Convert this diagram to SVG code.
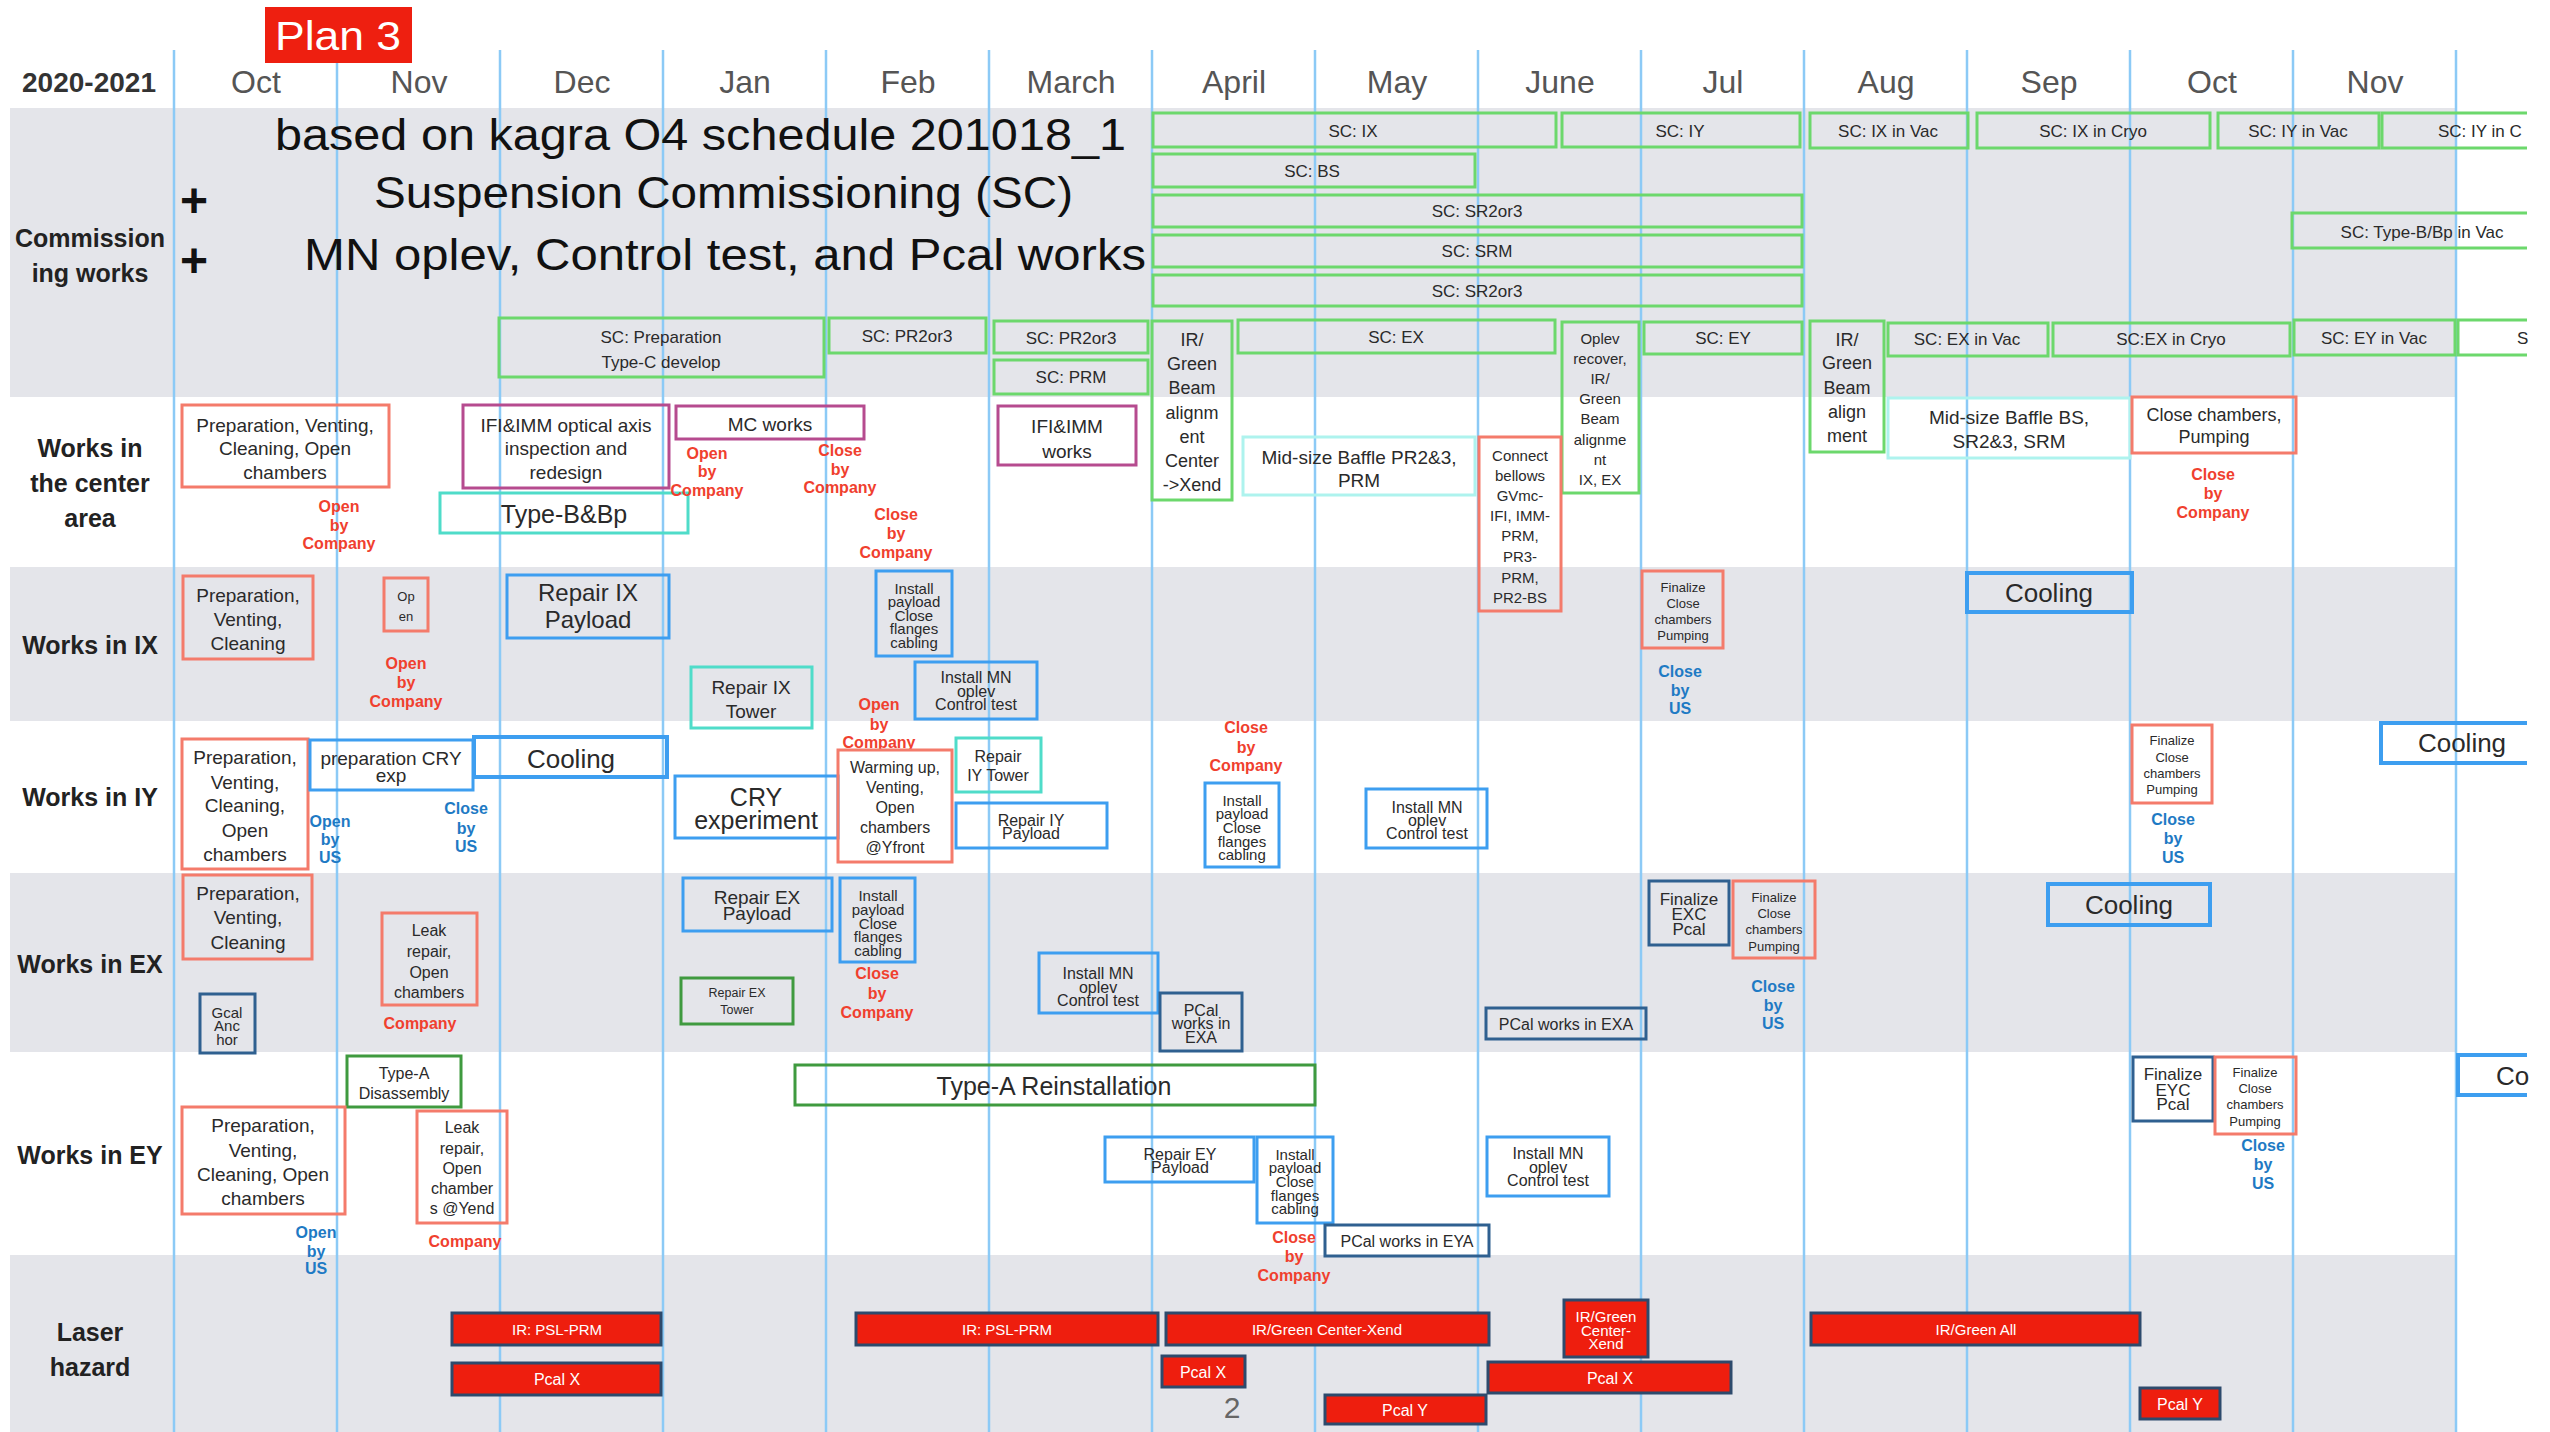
<svg xmlns="http://www.w3.org/2000/svg" width="2550" height="1432" viewBox="0 0 2550 1432">
<style>
text{font-family:"Liberation Sans",Arial,Helvetica,sans-serif;text-anchor:middle;dominant-baseline:central;fill:#2a2a2a}
.band{fill:#e4e5ea}
.vl{stroke:#8ccaf6;stroke-width:2.5}
.g{fill:none;stroke:#6cd86c;stroke-width:3}
.r{fill:none;stroke:#f47b6b;stroke-width:3}
.p{fill:none;stroke:#b64b8f;stroke-width:3}
.t{fill:none;stroke:#4fdcc9;stroke-width:3}
.c{fill:none;stroke:#aef3ee;stroke-width:3}
.b{fill:none;stroke:#3d9ef0;stroke-width:3}
.bk{fill:none;stroke:#3d9ef0;stroke-width:4}
.d{fill:none;stroke:#2f6090;stroke-width:3}
.dg{fill:none;stroke:#3f9a3f;stroke-width:3}
.lz{fill:#ee1e0e;stroke:#2d4a6c;stroke-width:3}
.mo{font-size:32px;fill:#555}
.lab{font-size:25px;font-weight:bold;fill:#222}
.big{font-size:45px;text-anchor:start;dominant-baseline:auto;fill:#111}
.sc{font-size:17px}
.s19{font-size:19px}
.s18{font-size:18px}
.s16{font-size:16px}
.s15{font-size:15px}
.s13{font-size:13px}
.s12{font-size:12.5px}
.s26{font-size:26px}
.s25{font-size:25px}
.rt{font-size:16px;font-weight:bold;fill:#f0402e}
.bt{font-size:16px;font-weight:bold;fill:#1e7ac4}
.wt{font-size:15px;fill:#fff}
</style>

<g id="background">
<rect x="0" y="0" width="2550" height="1432" fill="#fff"/>
<rect class="band" x="10" y="108" width="2446" height="289"/>
<rect class="band" x="10" y="567" width="2446" height="154"/>
<rect class="band" x="10" y="873" width="2446" height="179"/>
<rect class="band" x="10" y="1255" width="2446" height="177"/>
</g>

<g id="month-lines">
<line class="vl" x1="174" y1="50" x2="174" y2="1432"/>
<line class="vl" x1="337" y1="50" x2="337" y2="1432"/>
<line class="vl" x1="500" y1="50" x2="500" y2="1432"/>
<line class="vl" x1="663" y1="50" x2="663" y2="1432"/>
<line class="vl" x1="826" y1="50" x2="826" y2="1432"/>
<line class="vl" x1="989" y1="50" x2="989" y2="1432"/>
<line class="vl" x1="1152" y1="50" x2="1152" y2="1432"/>
<line class="vl" x1="1315" y1="50" x2="1315" y2="1432"/>
<line class="vl" x1="1478" y1="50" x2="1478" y2="1432"/>
<line class="vl" x1="1641" y1="50" x2="1641" y2="1432"/>
<line class="vl" x1="1804" y1="50" x2="1804" y2="1432"/>
<line class="vl" x1="1967" y1="50" x2="1967" y2="1432"/>
<line class="vl" x1="2130" y1="50" x2="2130" y2="1432"/>
<line class="vl" x1="2293" y1="50" x2="2293" y2="1432"/>
<line class="vl" x1="2456" y1="50" x2="2456" y2="1432"/>
</g>

<g id="header">
<rect x="265" y="7" width="147" height="56" fill="#ee1f10"/>
<text x="338" y="36" style="font-size:40px;fill:#fff" textLength="126" lengthAdjust="spacingAndGlyphs">Plan 3</text>
<text x="89" y="82" style="font-size:28px;font-weight:bold;fill:#333">2020-2021</text>
<text class="mo" x="256" y="82">Oct</text>
<text class="mo" x="419" y="82">Nov</text>
<text class="mo" x="582" y="82">Dec</text>
<text class="mo" x="745" y="82">Jan</text>
<text class="mo" x="908" y="82">Feb</text>
<text class="mo" x="1071" y="82">March</text>
<text class="mo" x="1234" y="82">April</text>
<text class="mo" x="1397" y="82">May</text>
<text class="mo" x="1560" y="82">June</text>
<text class="mo" x="1723" y="82">Jul</text>
<text class="mo" x="1886" y="82">Aug</text>
<text class="mo" x="2049" y="82">Sep</text>
<text class="mo" x="2212" y="82">Oct</text>
<text class="mo" x="2375" y="82">Nov</text>
</g>

<g id="row-labels">
<text class="lab" x="90" y="238">Commission</text>
<text class="lab" x="90" y="273">ing works</text>
<text class="lab" x="90" y="448">Works in</text>
<text class="lab" x="90" y="483">the center</text>
<text class="lab" x="90" y="518">area</text>
<text class="lab" x="90" y="645">Works in IX</text>
<text class="lab" x="90" y="797">Works in IY</text>
<text class="lab" x="90" y="964">Works in EX</text>
<text class="lab" x="90" y="1155">Works in EY</text>
<text class="lab" x="90" y="1332">Laser</text>
<text class="lab" x="90" y="1367">hazard</text>
</g>

<g id="title">
<text class="big" x="275" y="150" textLength="851" lengthAdjust="spacingAndGlyphs">based on kagra O4 schedule 201018_1</text>
<text class="big" x="374" y="208" textLength="699" lengthAdjust="spacingAndGlyphs">Suspension Commissioning (SC)</text>
<text class="big" x="304" y="270" textLength="842" lengthAdjust="spacingAndGlyphs">MN oplev, Control test, and Pcal works</text>
<text x="194" y="200" style="font-size:48px;font-weight:bold;fill:#111">+</text>
<text x="194" y="260" style="font-size:48px;font-weight:bold;fill:#111">+</text>
</g>

<!-- Commissioning -->
<g id="sc-ix"><rect class="g" x="1153" y="113" width="403" height="34"/><text class="sc" x="1353" y="131">SC: IX</text></g>
<g id="sc-iy"><rect class="g" x="1562" y="113" width="238" height="34"/><text class="sc" x="1680" y="131">SC: IY</text></g>
<g id="sc-ix-vac"><rect class="g" x="1810" y="113" width="158" height="35"/><text class="sc" x="1888" y="131">SC: IX in Vac</text></g>
<g id="sc-ix-cryo"><rect class="g" x="1977" y="113" width="233" height="35"/><text class="sc" x="2093" y="131">SC: IX in Cryo</text></g>
<g id="sc-iy-vac"><rect class="g" x="2218" y="113" width="161" height="35"/><text class="sc" x="2298" y="131">SC: IY in Vac</text></g>
<g id="sc-iy-cryo"><path class="g" d="M2527 113 H2382 V148 H2527"/><text class="sc" x="2438" y="131" style="text-anchor:start">SC: IY in C</text></g>
<g id="sc-bs"><rect class="g" x="1153" y="154" width="322" height="33"/><text class="sc" x="1312" y="171">SC: BS</text></g>
<g id="sc-sr2or3-a"><rect class="g" x="1153" y="195" width="649" height="32"/><text class="sc" x="1477" y="211">SC: SR2or3</text></g>
<g id="sc-srm"><rect class="g" x="1153" y="235" width="649" height="32"/><text class="sc" x="1477" y="251">SC: SRM</text></g>
<g id="sc-sr2or3-b"><rect class="g" x="1153" y="275" width="649" height="31"/><text class="sc" x="1477" y="291">SC: SR2or3</text></g>
<g id="sc-typeb"><path class="g" d="M2527 213 H2292 V248 H2527"/><text class="sc" x="2422" y="232">SC: Type-B/Bp in Vac</text></g>
<g id="sc-prep"><rect class="g" x="499" y="318" width="325" height="59"/><text class="sc" x="661" y="337">SC: Preparation</text><text class="sc" x="661" y="362">Type-C develop</text></g>
<g id="sc-pr2or3-feb"><rect class="g" x="829" y="318" width="157" height="35"/><text class="sc" x="907" y="336">SC: PR2or3</text></g>
<g id="sc-pr2or3-mar"><rect class="g" x="994" y="321" width="154" height="32"/><text class="sc" x="1071" y="338">SC: PR2or3</text></g>
<g id="sc-prm"><rect class="g" x="994" y="360" width="154" height="34"/><text class="sc" x="1071" y="377">SC: PRM</text></g>
<g id="ir-green-apr"><rect class="g" x="1152" y="321" width="80" height="179"/>
<text class="s18" x="1192" y="340">IR/</text><text class="s18" x="1192" y="364">Green</text><text class="s18" x="1192" y="388">Beam</text><text class="s18" x="1192" y="413">alignm</text><text class="s18" x="1192" y="437">ent</text><text class="s18" x="1192" y="461">Center</text><text class="s18" x="1192" y="485">-&gt;Xend</text></g>
<g id="sc-ex"><rect class="g" x="1238" y="320" width="317" height="33"/><text class="sc" x="1396" y="337">SC: EX</text></g>
<g id="oplev-recover"><rect class="g" x="1562" y="322" width="77" height="171"/>
<text class="s15" x="1600" y="338">Oplev</text><text class="s15" x="1600" y="358">recover,</text><text class="s15" x="1600" y="378">IR/</text><text class="s15" x="1600" y="398">Green</text><text class="s15" x="1600" y="418">Beam</text><text class="s15" x="1600" y="439">alignme</text><text class="s15" x="1600" y="459">nt</text><text class="s15" x="1600" y="479">IX, EX</text></g>
<g id="sc-ey"><rect class="g" x="1644" y="322" width="158" height="32"/><text class="sc" x="1723" y="338">SC: EY</text></g>
<g id="ir-green-aug"><rect class="g" x="1810" y="321" width="74" height="131"/>
<text class="s18" x="1847" y="340">IR/</text><text class="s18" x="1847" y="363">Green</text><text class="s18" x="1847" y="388">Beam</text><text class="s18" x="1847" y="412">align</text><text class="s18" x="1847" y="436">ment</text></g>
<g id="sc-ex-vac"><rect class="g" x="1888" y="323" width="160" height="33"/><text class="sc" x="1967" y="339">SC: EX in Vac</text></g>
<g id="sc-ex-cryo"><rect class="g" x="2053" y="323" width="237" height="33"/><text class="sc" x="2171" y="339">SC:EX in Cryo</text></g>
<g id="sc-ey-vac"><rect class="g" x="2294" y="320" width="161" height="35"/><text class="sc" x="2374" y="338">SC: EY in Vac</text></g>
<g id="sc-next"><path class="g" d="M2527 320 H2458 V355 H2527"/><text class="sc" x="2517" y="338" style="text-anchor:start">S</text></g>

<!-- Center area -->
<g id="c-prep"><rect class="r" x="182" y="405" width="207" height="82"/><text class="s19" x="285" y="425">Preparation, Venting,</text><text class="s19" x="285" y="448">Cleaning, Open</text><text class="s19" x="285" y="472">chambers</text></g>
<g id="c-ifi-optical"><rect class="p" x="463" y="405" width="206" height="83"/><text class="s19" x="566" y="425">IFI&amp;IMM optical axis</text><text class="s19" x="566" y="448">inspection and</text><text class="s19" x="566" y="472">redesign</text></g>
<g id="c-mc"><rect class="p" x="676" y="406" width="188" height="33"/><text class="s19" x="770" y="424">MC works</text></g>
<g id="c-typeb"><rect class="t" x="440" y="493" width="248" height="40"/><text class="s25" x="564" y="514">Type-B&amp;Bp</text></g>
<g id="c-ifi-works"><rect class="p" x="998" y="406" width="138" height="59"/><text class="s19" x="1067" y="426">IFI&amp;IMM</text><text class="s19" x="1067" y="451">works</text></g>
<g id="c-baffle-pr"><rect class="c" x="1243" y="437" width="232" height="58"/><text class="s19" x="1359" y="457">Mid-size Baffle PR2&amp;3,</text><text class="s19" x="1359" y="480">PRM</text></g>
<g id="c-connect"><rect class="r" x="1479" y="437" width="82" height="174"/>
<text class="s15" x="1520" y="455">Connect</text><text class="s15" x="1520" y="475">bellows</text><text class="s15" x="1520" y="495">GVmc-</text><text class="s15" x="1520" y="515">IFI, IMM-</text><text class="s15" x="1520" y="535">PRM,</text><text class="s15" x="1520" y="556">PR3-</text><text class="s15" x="1520" y="577">PRM,</text><text class="s15" x="1520" y="597">PR2-BS</text></g>
<g id="c-baffle-bs"><rect class="c" x="1888" y="398" width="242" height="60"/><text class="s19" x="2009" y="417">Mid-size Baffle BS,</text><text class="s19" x="2009" y="441">SR2&amp;3, SRM</text></g>
<g id="c-close"><rect class="r" x="2132" y="397" width="164" height="56"/><text class="s18" x="2214" y="415">Close chambers,</text><text class="s18" x="2214" y="437">Pumping</text></g>
<g id="c-open-co-1"><text class="rt" x="339" y="506">Open</text><text class="rt" x="339" y="525">by</text><text class="rt" x="339" y="543">Company</text></g>
<g id="c-open-co-2"><text class="rt" x="707" y="453">Open</text><text class="rt" x="707" y="471">by</text><text class="rt" x="707" y="490">Company</text></g>
<g id="c-close-co-1"><text class="rt" x="840" y="450">Close</text><text class="rt" x="840" y="469">by</text><text class="rt" x="840" y="487">Company</text></g>
<g id="c-close-co-2"><text class="rt" x="896" y="514">Close</text><text class="rt" x="896" y="533">by</text><text class="rt" x="896" y="552">Company</text></g>
<g id="c-close-co-3"><text class="rt" x="2213" y="474">Close</text><text class="rt" x="2213" y="493">by</text><text class="rt" x="2213" y="512">Company</text></g>

<!-- IX -->
<g id="ix-prep"><rect class="r" x="183" y="576" width="130" height="83"/><text class="s19" x="248" y="595">Preparation,</text><text class="s19" x="248" y="619">Venting,</text><text class="s19" x="248" y="643">Cleaning</text></g>
<g id="ix-open"><rect class="r" x="384" y="578" width="44" height="53"/><text class="s13" x="406" y="596">Op</text><text class="s13" x="406" y="616">en</text></g>
<g id="ix-open-co"><text class="rt" x="406" y="663">Open</text><text class="rt" x="406" y="682">by</text><text class="rt" x="406" y="701">Company</text></g>
<g id="ix-repair-payload"><rect class="b" x="507" y="575" width="162" height="63"/><text x="588" y="592" style="font-size:24px">Repair  IX</text><text x="588" y="619" style="font-size:24px">Payload</text></g>
<g id="ix-install"><rect class="b" x="876" y="571" width="76" height="85"/><text class="s15" x="914" y="588">Install</text><text class="s15" x="914" y="601">payload</text><text class="s15" x="914" y="615">Close</text><text class="s15" x="914" y="628">flanges</text><text class="s15" x="914" y="642">cabling</text></g>
<g id="ix-repair-tower"><rect class="t" x="691" y="667" width="121" height="61"/><text class="s19" x="751" y="687">Repair IX</text><text class="s19" x="751" y="711">Tower</text></g>
<g id="ix-mn"><rect class="b" x="915" y="662" width="122" height="57"/><text class="s16" x="976" y="677">Install MN</text><text class="s16" x="976" y="691">oplev</text><text class="s16" x="976" y="704">Control test</text></g>
<g id="ix-open-co-2"><text class="rt" x="879" y="704">Open</text><text class="rt" x="879" y="724">by</text><text class="rt" x="879" y="742">Company</text></g>
<g id="ix-finalize"><rect class="r" x="1642" y="571" width="81" height="77"/><text class="s13" x="1683" y="587">Finalize</text><text class="s13" x="1683" y="603">Close</text><text class="s13" x="1683" y="619">chambers</text><text class="s13" x="1683" y="635">Pumping</text></g>
<g id="ix-close-us"><text class="bt" x="1680" y="671">Close</text><text class="bt" x="1680" y="690">by</text><text class="bt" x="1680" y="708">US</text></g>
<g id="ix-cooling"><rect class="bk" x="1967" y="573" width="165" height="39"/><text class="s26" x="2049" y="593">Cooling</text></g>

<!-- IY -->
<g id="iy-prep"><rect class="r" x="182" y="739" width="126" height="130"/><text class="s19" x="245" y="757">Preparation,</text><text class="s19" x="245" y="782">Venting,</text><text class="s19" x="245" y="805">Cleaning,</text><text class="s19" x="245" y="830">Open</text><text class="s19" x="245" y="854">chambers</text></g>
<g id="iy-cry-prep"><rect class="b" x="310" y="740" width="163" height="50"/><text class="s19" x="391" y="758">preparation CRY</text><text class="s19" x="391" y="775">exp</text></g>
<g id="iy-cooling-1"><rect class="bk" x="474" y="737" width="193" height="40"/><text class="s26" x="571" y="759">Cooling</text></g>
<g id="iy-open-us"><text class="bt" x="330" y="821">Open</text><text class="bt" x="330" y="839">by</text><text class="bt" x="330" y="857">US</text></g>
<g id="iy-close-us"><text class="bt" x="466" y="808">Close</text><text class="bt" x="466" y="828">by</text><text class="bt" x="466" y="846">US</text></g>
<g id="iy-cry-exp"><rect class="b" x="675" y="776" width="163" height="62"/><text class="s25" x="756" y="797">CRY</text><text class="s25" x="756" y="820">experiment</text></g>
<g id="iy-warming"><rect class="r" x="838" y="750" width="114" height="112"/><text class="s16" x="895" y="767">Warming up,</text><text class="s16" x="895" y="787">Venting,</text><text class="s16" x="895" y="807">Open</text><text class="s16" x="895" y="827">chambers</text><text class="s16" x="895" y="847">@Yfront</text></g>
<g id="iy-repair-tower"><rect class="t" x="956" y="738" width="85" height="54"/><text class="s16" x="998" y="756">Repair</text><text class="s16" x="998" y="775">IY Tower</text></g>
<g id="iy-repair-payload"><rect class="b" x="956" y="803" width="151" height="45"/><text class="s16" x="1031" y="820">Repair  IY</text><text class="s16" x="1031" y="833">Payload</text></g>
<g id="iy-close-co"><text class="rt" x="1246" y="727">Close</text><text class="rt" x="1246" y="747">by</text><text class="rt" x="1246" y="765">Company</text></g>
<g id="iy-install"><rect class="b" x="1205" y="783" width="74" height="84"/><text class="s15" x="1242" y="800">Install</text><text class="s15" x="1242" y="813">payload</text><text class="s15" x="1242" y="827">Close</text><text class="s15" x="1242" y="841">flanges</text><text class="s15" x="1242" y="854">cabling</text></g>
<g id="iy-mn"><rect class="b" x="1366" y="789" width="121" height="59"/><text class="s16" x="1427" y="807">Install MN</text><text class="s16" x="1427" y="820">oplev</text><text class="s16" x="1427" y="833">Control test</text></g>
<g id="iy-finalize"><rect class="r" x="2132" y="725" width="80" height="78"/><text class="s13" x="2172" y="740">Finalize</text><text class="s13" x="2172" y="757">Close</text><text class="s13" x="2172" y="773">chambers</text><text class="s13" x="2172" y="789">Pumping</text></g>
<g id="iy-close-us-2"><text class="bt" x="2173" y="819">Close</text><text class="bt" x="2173" y="838">by</text><text class="bt" x="2173" y="857">US</text></g>
<g id="iy-cooling-2"><path class="bk" d="M2527 723 H2381 V763 H2527"/><text class="s26" x="2462" y="743">Cooling</text></g>

<!-- EX -->
<g id="ex-prep"><rect class="r" x="183" y="875" width="129" height="84"/><text class="s19" x="248" y="893">Preparation,</text><text class="s19" x="248" y="917">Venting,</text><text class="s19" x="248" y="942">Cleaning</text></g>
<g id="ex-leak"><rect class="r" x="382" y="913" width="95" height="92"/><text class="s16" x="429" y="930">Leak</text><text class="s16" x="429" y="951">repair,</text><text class="s16" x="429" y="972">Open</text><text class="s16" x="429" y="992">chambers</text></g>
<g id="ex-company"><text class="rt" x="420" y="1023">Company</text></g>
<g id="ex-gcal"><rect class="d" x="200" y="994" width="55" height="59"/><text class="s15" x="227" y="1012">Gcal</text><text class="s15" x="227" y="1025">Anc</text><text class="s15" x="227" y="1039">hor</text></g>
<g id="ex-repair-payload"><rect class="b" x="683" y="878" width="149" height="53"/><text class="s19" x="757" y="897">Repair  EX</text><text class="s19" x="757" y="913">Payload</text></g>
<g id="ex-install"><rect class="b" x="840" y="878" width="75" height="84"/><text class="s15" x="878" y="895">Install</text><text class="s15" x="878" y="909">payload</text><text class="s15" x="878" y="923">Close</text><text class="s15" x="878" y="936">flanges</text><text class="s15" x="878" y="950">cabling</text></g>
<g id="ex-close-co"><text class="rt" x="877" y="973">Close</text><text class="rt" x="877" y="993">by</text><text class="rt" x="877" y="1012">Company</text></g>
<g id="ex-repair-tower"><rect class="dg" x="681" y="978" width="112" height="46"/><text class="s12" x="737" y="993">Repair EX</text><text class="s12" x="737" y="1010">Tower</text></g>
<g id="ex-mn"><rect class="b" x="1039" y="953" width="119" height="60"/><text class="s16" x="1098" y="973">Install MN</text><text class="s16" x="1098" y="987">oplev</text><text class="s16" x="1098" y="1000">Control test</text></g>
<g id="ex-pcal-1"><rect class="d" x="1160" y="993" width="82" height="58"/><text class="s16" x="1201" y="1010">PCal</text><text class="s16" x="1201" y="1023">works in</text><text class="s16" x="1201" y="1037">EXA</text></g>
<g id="ex-pcal-2"><rect class="d" x="1486" y="1008" width="160" height="31"/><text class="s16" x="1566" y="1024">PCal works in EXA</text></g>
<g id="ex-finalize-pcal"><rect class="d" x="1649" y="881" width="80" height="64"/><text x="1689" y="899" style="font-size:17px">Finalize</text><text x="1689" y="914" style="font-size:17px">EXC</text><text x="1689" y="929" style="font-size:17px">Pcal</text></g>
<g id="ex-finalize"><rect class="r" x="1733" y="881" width="82" height="77"/><text class="s13" x="1774" y="897">Finalize</text><text class="s13" x="1774" y="913">Close</text><text class="s13" x="1774" y="929">chambers</text><text class="s13" x="1774" y="946">Pumping</text></g>
<g id="ex-close-us"><text class="bt" x="1773" y="986">Close</text><text class="bt" x="1773" y="1005">by</text><text class="bt" x="1773" y="1023">US</text></g>
<g id="ex-cooling"><rect class="bk" x="2048" y="884" width="162" height="41"/><text class="s26" x="2129" y="905">Cooling</text></g>

<!-- EY -->
<g id="ey-typea-dis"><rect class="dg" x="347" y="1056" width="114" height="51"/><text class="s16" x="404" y="1073">Type-A</text><text class="s16" x="404" y="1093">Disassembly</text></g>
<g id="ey-prep"><rect class="r" x="182" y="1107" width="163" height="107"/><text class="s19" x="263" y="1125">Preparation,</text><text class="s19" x="263" y="1150">Venting,</text><text class="s19" x="263" y="1174">Cleaning, Open</text><text class="s19" x="263" y="1198">chambers</text></g>
<g id="ey-leak"><rect class="r" x="417" y="1111" width="90" height="112"/><text class="s16" x="462" y="1127">Leak</text><text class="s16" x="462" y="1148">repair,</text><text class="s16" x="462" y="1168">Open</text><text class="s16" x="462" y="1188">chamber</text><text class="s16" x="462" y="1208">s @Yend</text></g>
<g id="ey-company"><text class="rt" x="465" y="1241">Company</text></g>
<g id="ey-open-us"><text class="bt" x="316" y="1232">Open</text><text class="bt" x="316" y="1251">by</text><text class="bt" x="316" y="1268">US</text></g>
<g id="ey-typea-re"><rect class="dg" x="795" y="1065" width="520" height="40"/><text class="s25" x="1054" y="1086">Type-A Reinstallation</text></g>
<g id="ey-repair-payload"><rect class="b" x="1105" y="1137" width="149" height="45"/><text class="s16" x="1180" y="1154">Repair  EY</text><text class="s16" x="1180" y="1167">Payload</text></g>
<g id="ey-install"><rect class="b" x="1257" y="1137" width="76" height="86"/><text class="s15" x="1295" y="1154">Install</text><text class="s15" x="1295" y="1167">payload</text><text class="s15" x="1295" y="1181">Close</text><text class="s15" x="1295" y="1195">flanges</text><text class="s15" x="1295" y="1208">cabling</text></g>
<g id="ey-close-co"><text class="rt" x="1294" y="1237">Close</text><text class="rt" x="1294" y="1256">by</text><text class="rt" x="1294" y="1275">Company</text></g>
<g id="ey-pcal"><rect class="d" x="1325" y="1225" width="164" height="31"/><text class="s16" x="1407" y="1241">PCal works in EYA</text></g>
<g id="ey-mn"><rect class="b" x="1487" y="1137" width="122" height="59"/><text class="s16" x="1548" y="1153">Install MN</text><text class="s16" x="1548" y="1167">oplev</text><text class="s16" x="1548" y="1180">Control test</text></g>
<g id="ey-finalize-pcal"><rect class="d" x="2133" y="1057" width="80" height="64"/><text x="2173" y="1074" style="font-size:17px">Finalize</text><text x="2173" y="1090" style="font-size:17px">EYC</text><text x="2173" y="1104" style="font-size:17px">Pcal</text></g>
<g id="ey-finalize"><rect class="r" x="2215" y="1057" width="81" height="77"/><text class="s13" x="2255" y="1072">Finalize</text><text class="s13" x="2255" y="1088">Close</text><text class="s13" x="2255" y="1104">chambers</text><text class="s13" x="2255" y="1121">Pumping</text></g>
<g id="ey-close-us"><text class="bt" x="2263" y="1145">Close</text><text class="bt" x="2263" y="1164">by</text><text class="bt" x="2263" y="1183">US</text></g>
<g id="ey-cooling"><path class="bk" d="M2527 1055 H2458 V1095 H2527"/><text class="s26" x="2496" y="1076" style="text-anchor:start">Co</text></g>

<!-- Laser hazard -->
<g id="lz-psl-1"><rect class="lz" x="452" y="1313" width="209" height="32"/><text class="wt" x="557" y="1329">IR: PSL-PRM</text></g>
<g id="lz-pcalx-1"><rect class="lz" x="452" y="1363" width="209" height="32"/><text class="wt" x="557" y="1379" style="font-size:16px">Pcal X</text></g>
<g id="lz-psl-2"><rect class="lz" x="856" y="1313" width="302" height="32"/><text class="wt" x="1007" y="1329">IR: PSL-PRM</text></g>
<g id="lz-green-1"><rect class="lz" x="1166" y="1313" width="323" height="32"/><text class="wt" x="1327" y="1329">IR/Green Center-Xend</text></g>
<g id="lz-pcalx-2"><rect class="lz" x="1162" y="1356" width="83" height="31"/><text class="wt" x="1203" y="1372" style="font-size:16px">Pcal X</text></g>
<g id="lz-pcaly-1"><rect class="lz" x="1325" y="1395" width="161" height="29"/><text class="wt" x="1405" y="1410" style="font-size:16px">Pcal Y</text></g>
<g id="lz-green-2"><rect class="lz" x="1564" y="1300" width="84" height="57"/><text class="wt" x="1606" y="1316">IR/Green</text><text class="wt" x="1606" y="1330">Center-</text><text class="wt" x="1606" y="1343">Xend</text></g>
<g id="lz-pcalx-3"><rect class="lz" x="1488" y="1362" width="243" height="31"/><text class="wt" x="1610" y="1378" style="font-size:16px">Pcal X</text></g>
<g id="lz-green-all"><rect class="lz" x="1811" y="1313" width="329" height="32"/><text class="wt" x="1976" y="1329">IR/Green All</text></g>
<g id="lz-pcaly-2"><rect class="lz" x="2140" y="1388" width="80" height="31"/><text class="wt" x="2180" y="1404" style="font-size:16px">Pcal Y</text></g>
<text x="1232" y="1407" style="font-size:30px;fill:#666">2</text>
</svg>
